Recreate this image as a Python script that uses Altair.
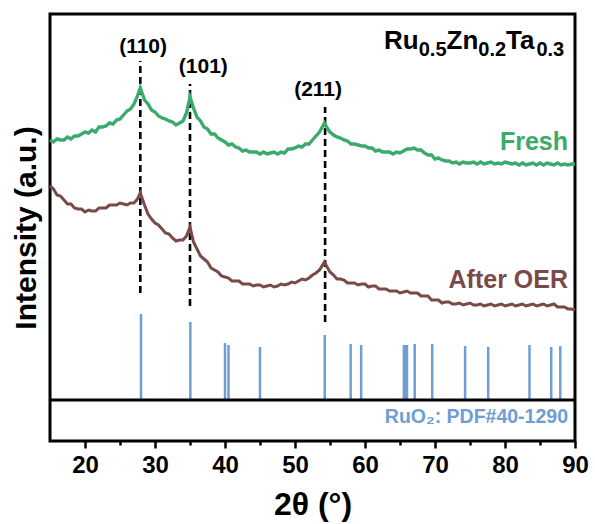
import altair as alt
import pandas as pd

# Diffraction angle grid (degrees 2θ), shared by both scans
theta = [15, 15.5, 16, 16.5, 17, 17.5, 18, 18.5, 19, 19.5, 20, 20.5, 21, 21.5, 22, 22.5,
         23, 23.5, 24, 24.5, 25, 25.5, 26, 26.5, 27, 27.5, 27.9, 28.5, 29, 29.5, 30, 30.5,
         31, 31.5, 32, 32.5, 33, 33.5, 34, 34.5, 35, 35.5, 36, 36.5, 37, 37.5, 38, 38.5,
         39, 39.5, 40, 40.5, 41, 41.5, 42, 42.5, 43, 43.5, 44, 44.5, 45, 45.5, 46, 46.5,
         47, 47.5, 48, 48.5, 49, 49.5, 50, 50.5, 51, 51.5, 52, 52.5, 53, 53.5, 54.2, 54.5,
         55, 55.5, 56, 56.5, 57, 57.5, 58, 58.5, 59, 59.5, 60, 60.5, 61, 61.5, 62, 62.5,
         63, 63.5, 64, 64.5, 65, 65.5, 66, 66.5, 67, 67.5, 68, 68.5, 69, 69.5, 70, 70.5,
         71, 71.5, 72, 72.5, 73, 73.5, 74, 74.5, 75, 75.5, 76, 76.5, 77, 77.5, 78, 78.5,
         79, 79.5, 80, 80.5, 81, 81.5, 82, 82.5, 83, 83.5, 84, 84.5, 85, 85.5, 86, 86.5,
         87, 87.5, 88, 88.5, 89, 89.5, 90]

# Offset intensities (a.u.)
fresh = [260, 258, 261, 260, 260, 263, 261, 264, 264, 266, 268, 267, 270, 268, 273, 273,
         274, 277, 276, 280, 281, 285, 289, 291, 296, 304, 312, 300, 296, 290, 288, 284,
         282, 281, 279, 278, 275, 277, 279, 287, 303, 292, 283, 279, 273, 271, 266, 266,
         262, 260, 258, 255, 256, 253, 252, 249, 250, 248, 248, 248, 246, 248, 246, 247,
         248, 246, 248, 247, 251, 251, 252, 254, 253, 256, 256, 260, 264, 268, 277, 273,
         268, 265, 263, 262, 260, 259, 256, 256, 255, 254, 254, 252, 252, 249, 250, 248,
         248, 248, 246, 248, 247, 249, 251, 251, 252, 250, 250, 247, 245, 245, 241, 242,
         240, 239, 239, 237, 238, 236, 238, 237, 237, 238, 236, 238, 236, 237, 238, 236,
         237, 236, 238, 237, 236, 237, 235, 237, 235, 236, 237, 235, 237, 235, 237, 236,
         235, 237, 235, 236, 235, 236, 236]

after_oer = [214, 211, 205, 204, 200, 196, 196, 192, 191, 191, 188, 190, 189, 189, 192, 192,
             192, 195, 195, 195, 197, 196, 195, 197, 197, 201, 207, 195, 186, 181, 177, 175,
             171, 167, 166, 162, 159, 160, 160, 164, 173, 158, 151, 144, 141, 138, 132, 130,
             128, 124, 123, 122, 119, 119, 119, 116, 116, 116, 114, 115, 115, 113, 114, 115,
             113, 114, 116, 115, 116, 118, 117, 119, 121, 120, 122, 125, 127, 130, 138, 134,
             128, 125, 121, 121, 120, 117, 117, 117, 115, 116, 116, 113, 114, 114, 111, 111,
             111, 109, 109, 109, 107, 108, 109, 107, 107, 107, 104, 104, 104, 100, 100, 100,
             97, 98, 98, 96, 96, 97, 95, 96, 97, 95, 95, 96, 94, 95, 96, 94,
             95, 96, 94, 95, 96, 94, 95, 96, 94, 95, 96, 94, 95, 96, 94, 95,
             96, 93, 93, 93, 91, 91, 90]

# RuO2 reference pattern (PDF#40-1290): positions and relative stick heights
ref_pos = [28.0, 35.05, 40.0, 40.5, 45.0, 54.25, 57.95, 59.45, 65.55, 65.8, 66.0,
           67.1, 69.6, 74.3, 77.6, 83.5, 86.6, 87.9]
ref_int = [86, 78, 57, 55, 53, 65, 56, 55, 55, 55, 55, 56, 56, 54, 53, 55, 53, 54]

# Indexed reflections
hkl = ["(110)", "(101)", "(211)"]
hkl_pos = [27.9, 35.0, 54.3]
hkl_lo = [107, 94, 78]
hkl_hi = [339, 316, 293]
hkl_label_x = [28.3, 36.9, 53.3]
hkl_label_y = [353, 333, 310]

GREEN = "#3BAA6A"
BROWN = "#7A4A48"
BLUE = "#6E9ED2"
FONT = "Liberation Sans"

x_scale = alt.Scale(domain=[15, 90], nice=False, zero=False)
y_scale = alt.Scale(domain=[-41, 386], nice=False, zero=False)

x_axis = alt.Axis(
    values=list(range(20, 91, 5)),
    labelExpr="datum.value % 10 === 0 ? datum.label : ''",
    tickSize={"condition": {"test": "datum.value % 10 === 0", "value": 7}, "value": 4},
    tickWidth=2.5, tickColor="black", domain=False, grid=False,
    labelFont=FONT, labelFontSize=24, labelFontWeight="bold", labelColor="black",
    labelPadding=5, labelFlush=False, labelOverlap=False,
    title="2θ (°)", titleFont=FONT, titleFontSize=32, titleFontWeight="bold",
    titleColor="black", titlePadding=12,
)
y_axis = alt.Axis(
    labels=False, ticks=False, domain=False, grid=False,
    title="Intensity (a.u.)", titleFont=FONT, titleFontSize=30, titleFontWeight="bold",
    titleColor="black", titlePadding=9,
)


def X(field):
    return alt.X(field, type="quantitative", scale=x_scale, axis=x_axis)


def Y(field):
    return alt.Y(field, type="quantitative", scale=y_scale, axis=y_axis)


scans = pd.DataFrame({"theta": theta, "fresh": fresh, "after": after_oer})

fresh_line = alt.Chart(scans).mark_line(color=GREEN, strokeWidth=3.4).encode(
    x=X("theta"), y=Y("fresh"))
after_line = alt.Chart(scans).mark_line(color=BROWN, strokeWidth=3.0).encode(
    x=X("theta"), y=Y("after"))

refs = pd.DataFrame({"theta": ref_pos, "base": [0] * len(ref_pos), "height": ref_int})
sticks = alt.Chart(refs).mark_rule(color=BLUE, strokeWidth=2.5).encode(
    x=X("theta"), y=Y("base"), y2="height")

peaks = pd.DataFrame({"theta": hkl_pos, "lo": hkl_lo, "hi": hkl_hi})
dashes = alt.Chart(peaks).mark_rule(color="black", strokeWidth=2.6, strokeDash=[7, 4]).encode(
    x=X("theta"), y=Y("lo"), y2="hi")

hkl_df = pd.DataFrame({"theta": hkl_label_x, "intensity": hkl_label_y, "label": hkl})
hkl_text = alt.Chart(hkl_df).mark_text(
    font=FONT, fontSize=21, fontWeight="bold", color="black", baseline="middle"
).encode(x=X("theta"), y=Y("intensity"), text="label")

divider = alt.Chart(pd.DataFrame({"intensity": [0]})).mark_rule(
    color="black", strokeWidth=3).encode(y=Y("intensity"))

series_df = pd.DataFrame({
    "theta": [89, 89, 89],
    "intensity": [258, 120, -17],
    "label": ["Fresh", "After OER", "RuO₂: PDF#40-1290"],
    "color": [GREEN, BROWN, BLUE],
    "size": [25, 25, 19.5],
})
series_text = alt.Chart(series_df).mark_text(
    font=FONT, fontWeight="bold", align="right", baseline="middle"
).encode(
    x=X("theta"), y=Y("intensity"), text="label",
    color=alt.Color("color:N", scale=None),
    size=alt.Size("size:Q", scale=None),
)

# Sample composition with subscripted stoichiometry
comp_main = pd.DataFrame({"t": ["Ru", "Zn", "Ta"], "px": [334, 396.5, 456.1]})
comp_sub = pd.DataFrame({"t": ["0.5", "0.2", "0.3"], "px": [368.7, 428.3, 486.4]})
title_main = alt.Chart(comp_main).mark_text(
    font=FONT, fontSize=26, fontWeight="bold", color="black", align="left",
    baseline="alphabetic"
).encode(x=alt.X("px:Q", scale=None), y=alt.value(35), text="t")
title_sub = alt.Chart(comp_sub).mark_text(
    font=FONT, fontSize=20, fontWeight="bold", color="black", align="left",
    baseline="alphabetic"
).encode(x=alt.X("px:Q", scale=None), y=alt.value(42), text="t")

chart = alt.layer(
    sticks, dashes, after_line, fresh_line, divider, hkl_text, series_text,
    title_main, title_sub
).properties(
    width=525, height=427,
    background="white",
    autosize=alt.AutoSizeParams(type="none"),
    padding={"left": 50, "top": 14, "right": 20, "bottom": 83},
).configure_view(stroke="black", strokeWidth=3)

chart.save("out.html", embed_options={"renderer": "svg", "actions": False})
